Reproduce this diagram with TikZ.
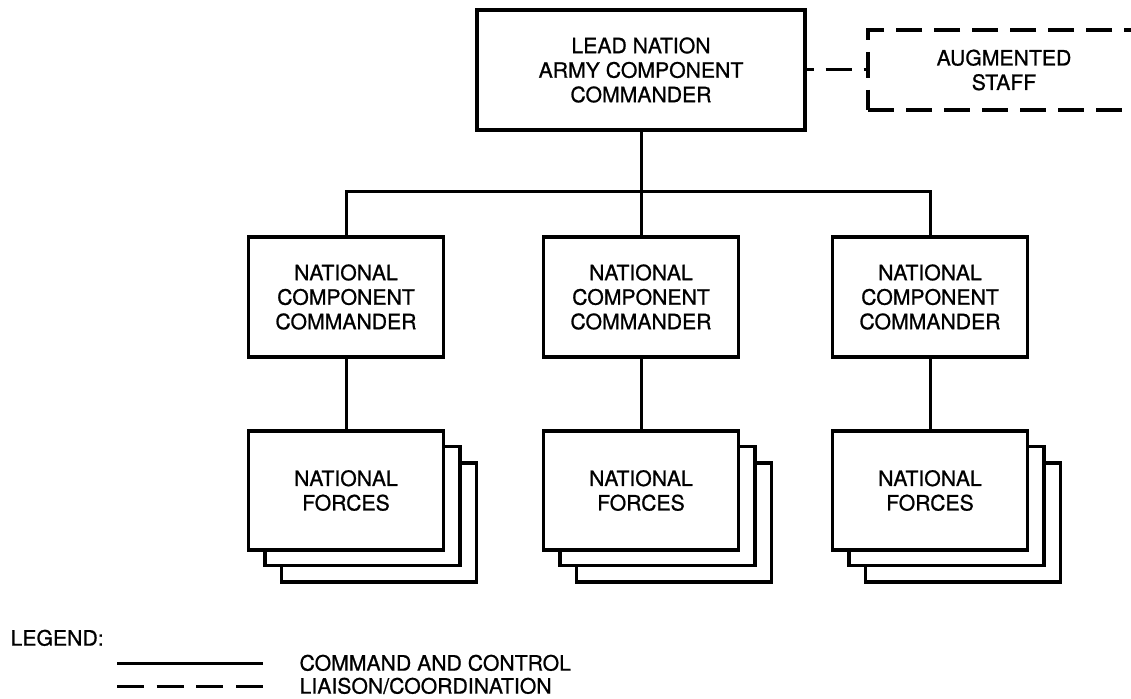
\documentclass[tikz,border=0pt]{standalone}
\usepackage{fontspec}
\setmainfont{TeX Gyre Heros}[FakeBold=0.8]

\begin{document}
\begin{tikzpicture}[x=1pt, y=-1pt, line width=3.2pt, line join=miter,
  every node/.style={font=\fontsize{21.2}{24.5}\selectfont, align=center, inner sep=0pt},
  cbox/.style={draw, fill=white, minimum width=195pt, minimum height=120pt},
  augbox/.style={draw, dash pattern=on 26pt off 12pt, minimum width=272pt, minimum height=80pt},
  liaison/.style={dash pattern=on 26pt off 12pt, dash phase=19pt},
  link/.style={line width=3pt},
  legtext/.style={anchor=west, text height=15.2pt, text depth=0pt}]

  %% ════ top: lead nation + augmented staff ════
  \node[cbox, minimum width=328pt] (lead) at (641,70) {LEAD NATION\\ARMY COMPONENT\\COMMANDER};   % box(477,10,328,120)
  \node[augbox] (aug) at (1004,70) {AUGMENTED\\STAFF};   % box(868,30,272,80), right side runs off the page

  %% ════ middle row: national component commanders ════
  \node[cbox] (ncc1) at (346,297) {NATIONAL\\COMPONENT\\COMMANDER};
  \node[cbox] (ncc2) at (641,297) {NATIONAL\\COMPONENT\\COMMANDER};
  \node[cbox] (ncc3) at (930,297) {NATIONAL\\COMPONENT\\COMMANDER};

  %% ════ bottom row: stacked national forces (back to front) ════
  \node[cbox, minimum height=119pt] (nf1c) at (379,522.5) {};
  \node[cbox, minimum height=119pt] (nf1b) at (362.5,506) {};
  \node[cbox, minimum height=119pt] (nf1)  at (346,490.5) {NATIONAL\\FORCES};
  \node[cbox, minimum height=119pt] (nf2c) at (674,522.5) {};
  \node[cbox, minimum height=119pt] (nf2b) at (657.5,506) {};
  \node[cbox, minimum height=119pt] (nf2)  at (641,490.5) {NATIONAL\\FORCES};
  \node[cbox, minimum height=119pt] (nf3c) at (963,522.5) {};
  \node[cbox, minimum height=119pt] (nf3b) at (946.5,506) {};
  \node[cbox, minimum height=119pt] (nf3)  at (930,490.5) {NATIONAL\\FORCES};

  %% ════ connectors ════
  \coordinate (barL) at (346,191);
  \coordinate (barR) at (930,191);
  \draw[link] (lead) -- (ncc2);
  \draw[link] (ncc1) -- (barL) -- (barR) -- (ncc3);
  \draw[link] (ncc1) -- (nf1);
  \draw[link] (ncc2) -- (nf2);
  \draw[link] (ncc3) -- (nf3);
  \draw[link, liaison] (lead) -- (aug);

  %% ════ legend ════
  \node[legtext] (legend) at (9,638) {LEGEND:};
  \coordinate (solidA) at (117,663);
  \coordinate (solidB) at (263,663);
  \coordinate (dashA) at (117,686);
  \coordinate (dashB) at (263,686);
  \draw[link] (solidA) -- (solidB);
  \draw[link, dash pattern=on 27pt off 12.7pt] (dashA) -- (dashB);
  \node[legtext] (cmdtext) at (298,663) {COMMAND AND CONTROL};
  \node[legtext] (liatext) at (298,686) {LIAISON/COORDINATION};

  % fix the canvas to the reference size
  \pgfresetboundingbox
  \path[use as bounding box] (0,0) rectangle (1131,698);
\end{tikzpicture}
\end{document}
